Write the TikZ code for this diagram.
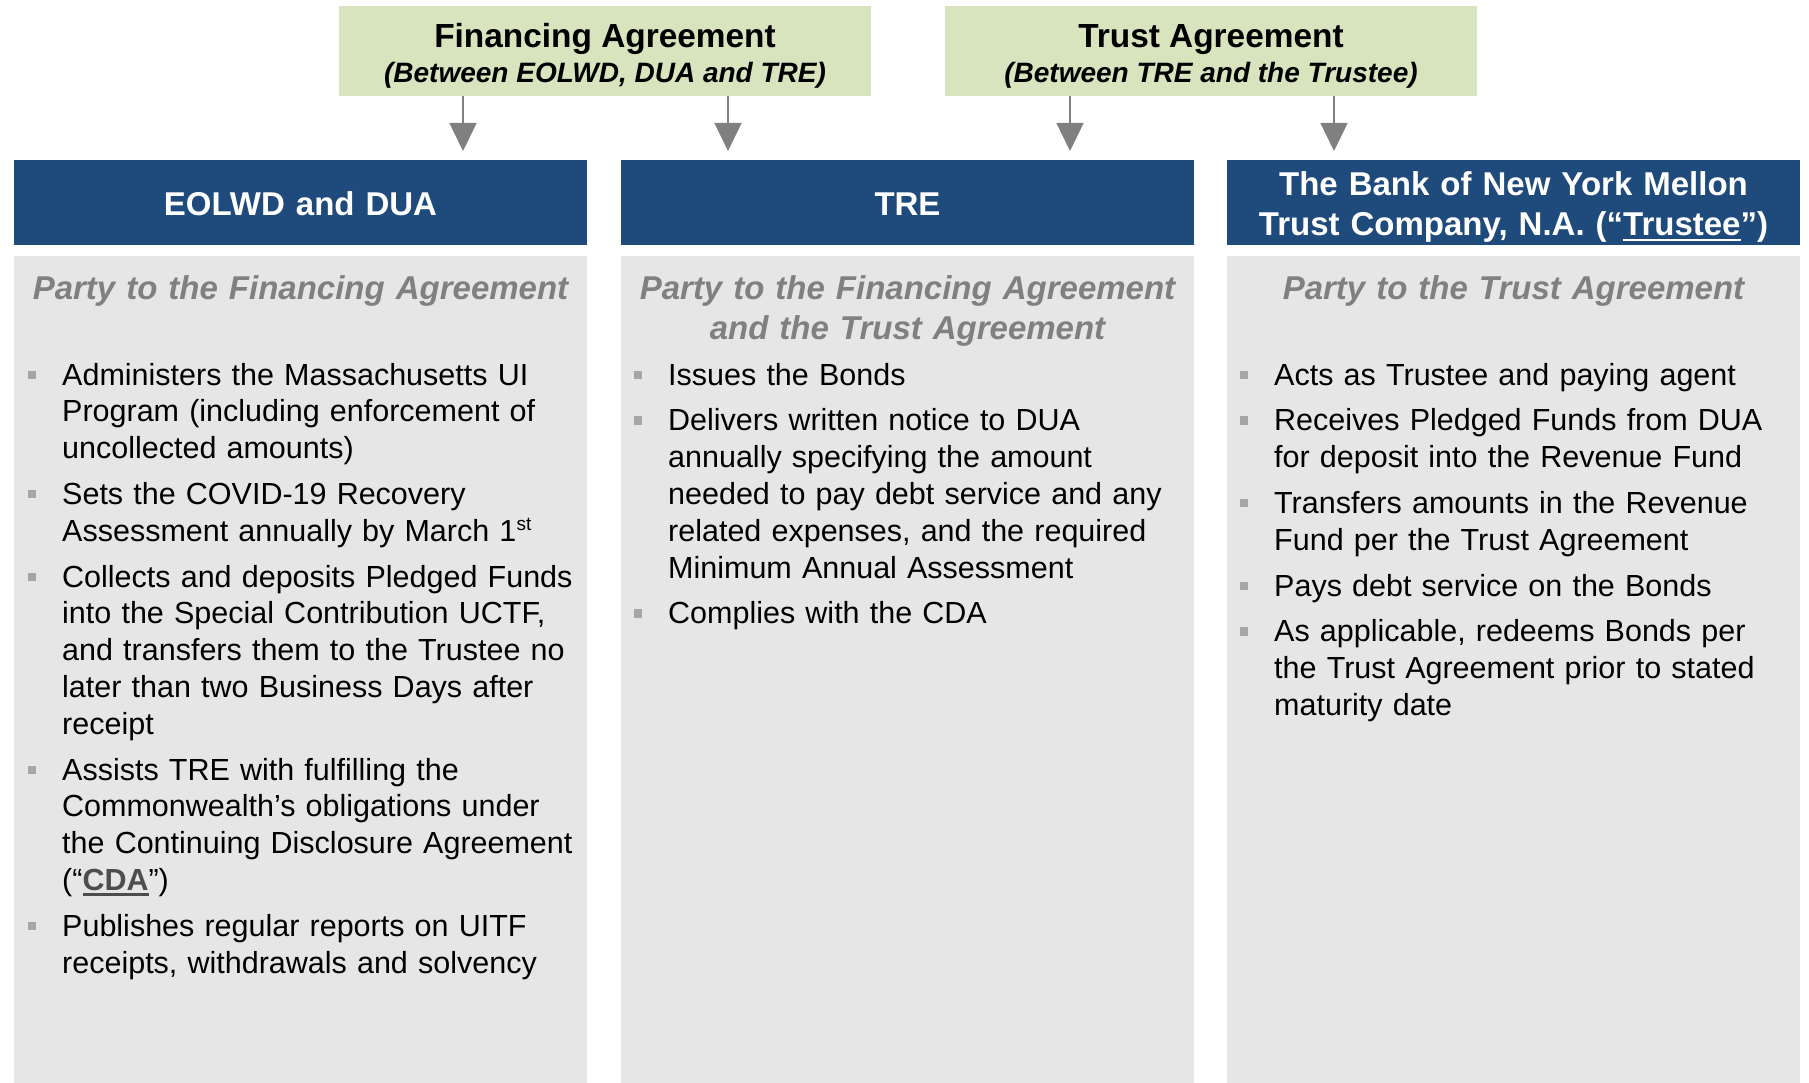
\documentclass[tikz,border=0pt]{standalone}
\usepackage{fontspec}
\setmainfont{Liberation Sans}
\usetikzlibrary{arrows.meta}

\definecolor{agreegreen}{HTML}{D7E4BD}
\definecolor{partyblue}{HTML}{1F4A7C}
\definecolor{panelgray}{HTML}{E6E6E6}
\definecolor{rolegray}{HTML}{808080}
\definecolor{arrowgray}{HTML}{808080}
\definecolor{bulletgray}{HTML}{A6A6A6}
\definecolor{cdagray}{HTML}{4D4D4D}

% square list marker hanging left of the text column
\newcommand{\sqbul}{\leavevmode\llap{\textcolor{bulletgray}{\rule[6pt]{8.5pt}{8.5pt}}\hspace{26pt}}}
% thick underline in the current colour
\newcommand{\thickul}[1]{\setbox0\hbox{#1}\rlap{\rule[-5.5pt]{\wd0}{2.5pt}}\box0}

\begin{document}
\begin{tikzpicture}[x=1pt,y=-1pt,
  agree/.style={fill=agreegreen, draw=none, inner sep=0pt, outer sep=0pt,
    minimum width=532pt, minimum height=90pt},
  party/.style={fill=partyblue, draw=none, inner sep=0pt, outer sep=0pt,
    minimum width=573pt, minimum height=85pt},
  panel/.style={fill=panelgray, draw=none, inner sep=0pt, outer sep=0pt,
    minimum width=573pt, minimum height=827pt},
  agreetitle/.style={anchor=base, inner sep=0pt, font=\fontsize{33.4}{38}\selectfont\bfseries},
  agreesub/.style={anchor=base, inner sep=0pt, font=\fontsize{28}{32}\selectfont\bfseries\itshape},
  partytitle/.style={anchor=base, inner sep=0pt, text width=573pt, align=center,
    text=white, font=\fontsize{33}{40}\selectfont\bfseries},
  roletext/.style={anchor=base, inner sep=0pt, text width=573pt, align=center,
    text=rolegray, font=\fontsize{33}{40}\selectfont\bfseries\itshape},
  duties/.style={anchor=base west, inner sep=0pt, text width=560pt, align=left,
    font=\fontsize{30.5}{36.8}\selectfont},
  flow/.style={draw=arrowgray, line width=1.5pt, shorten >=9pt,
    -{Triangle[width=27pt,length=28pt]}, arrowgray}
]
\useasboundingbox (0,0) rectangle (1809,1083);
\fill[white] (0,0) rectangle (1809,1083);

% agreements
\node[agree] (fa) at (605,51) {};
\node[agree] (ta) at (1211,51) {};
\node[agreetitle] (fa-t) at (605,48) {Financing Agreement};
\node[agreesub]   (fa-s) at (605,83) {(Between EOLWD, DUA and TRE)};
\node[agreetitle] (ta-t) at (1211,48) {Trust Agreement};
\node[agreesub]   (ta-s) at (1211,83) {(Between TRE and the Trustee)};

% parties
\node[party] (eol) at (300.5,202.5) {};
\node[party] (tre) at (907.5,202.5) {};
\node[party] (bny) at (1513.5,202.5) {};
\node[partytitle] (eol-t) at (300.5,216) {EOLWD and DUA};
\node[partytitle] (tre-t) at (907.5,216) {TRE};
\node[partytitle] (bny-t) at (1513.5,196) {The Bank of New York Mellon\\
  Trust Company, N.A. (“\thickul{Trustee}”)};

% arrow landing points on the party headers
\coordinate (a1) at (463,160);
\coordinate (a2) at (728,160);
\coordinate (a3) at (1070,160);
\coordinate (a4) at (1334,160);
\draw[flow] (fa.south -| a1) -- (a1);
\draw[flow] (fa.south -| a2) -- (a2);
\draw[flow] (ta.south -| a3) -- (a3);
\draw[flow] (ta.south -| a4) -- (a4);

% role panels
\node[panel] (p1) at (300.5,669.5) {};
\node[panel] (p2) at (907.5,669.5) {};
\node[panel] (p3) at (1513.5,669.5) {};
\node[roletext] (r1) at (300.5,299) {Party to the Financing Agreement};
\node[roletext] (r2) at (907.5,299.5) {Party to the Financing Agreement\\ and the Trust Agreement};
\node[roletext] (r3) at (1513.5,299) {Party to the Trust Agreement};

\node[duties] (d1) at (62,385) {%
\sqbul Administers the Massachusetts UI\\
Program (including enforcement of\\
uncollected amounts)\\[9pt]
\sqbul Sets the COVID-19 Recovery\\
Assessment annually by March 1\raisebox{11pt}{\fontsize{19}{19}\selectfont st}\\[9pt]
\sqbul Collects and deposits Pledged Funds\\
into the Special Contribution UCTF,\\
and transfers them to the Trustee no\\
later than two Business Days after\\
receipt\\[9pt]
\sqbul Assists TRE with fulfilling the\\
Commonwealth’s obligations under\\
the Continuing Disclosure Agreement\\
(“\textcolor{cdagray}{\bfseries\thickul{CDA}}”)\\[9pt]
\sqbul Publishes regular reports on UITF\\
receipts, withdrawals and solvency};

\node[duties] (d2) at (668,385) {%
\sqbul Issues the Bonds\\[9pt]
\sqbul Delivers written notice to DUA\\
annually specifying the amount\\
needed to pay debt service and any\\
related expenses, and the required\\
Minimum Annual Assessment\\[9pt]
\sqbul Complies with the CDA};

\node[duties] (d3) at (1274,385) {%
\sqbul Acts as Trustee and paying agent\\[9pt]
\sqbul Receives Pledged Funds from DUA\\
for deposit into the Revenue Fund\\[9pt]
\sqbul Transfers amounts in the Revenue\\
Fund per the Trust Agreement\\[9pt]
\sqbul Pays debt service on the Bonds\\[9pt]
\sqbul As applicable, redeems Bonds per\\
the Trust Agreement prior to stated\\
maturity date};
\end{tikzpicture}
\end{document}
